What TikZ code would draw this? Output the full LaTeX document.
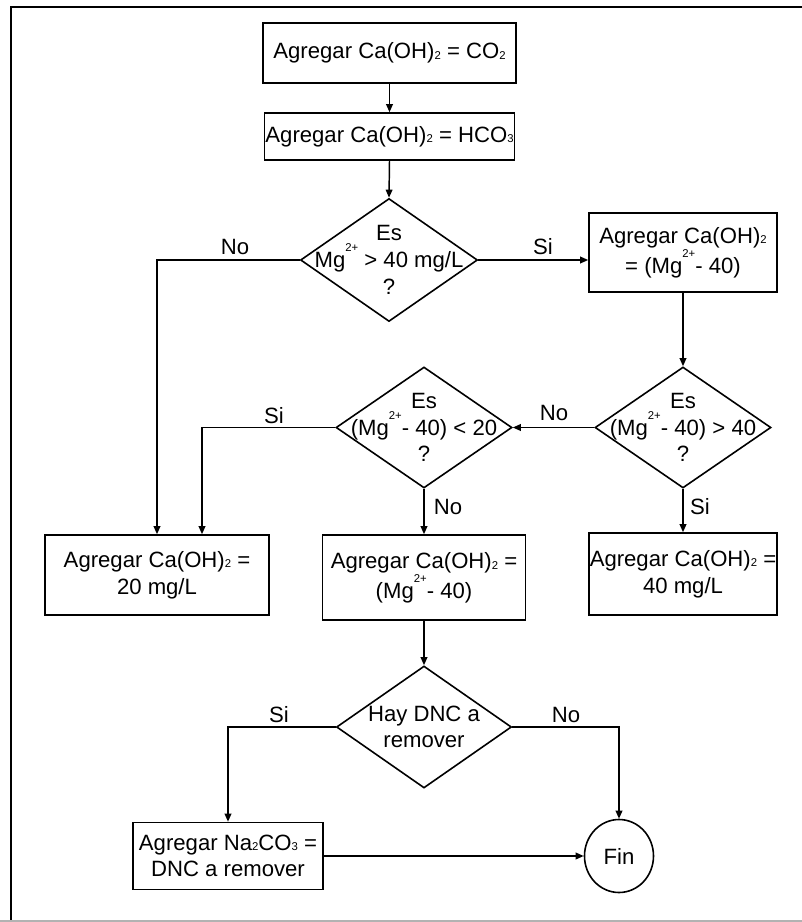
\documentclass[tikz,border=0pt]{standalone}
\usepackage{fontspec}
\setmainfont{Liberation Sans}
\usetikzlibrary{shapes.geometric,arrows.meta}
% small chemical indices, set the way the drawing shows them
\newcommand{\chsub}[1]{\raisebox{-0.05ex}{\fontsize{8.5}{8.5}\selectfont #1}}
\newcommand{\chsup}[1]{\raisebox{1.35ex}{\fontsize{8.5}{8.5}\selectfont #1}}

\begin{document}
\begin{tikzpicture}[x=0.75pt,y=-0.75pt,
  font=\fontsize{16.6}{20}\selectfont,
  every node/.style={inner sep=0pt},
  box/.style={draw, line width=1.2pt, align=center},
  decision/.style={draw, diamond, line width=1.2pt},
  txt/.style={align=center},
  arr/.style={line width=1.1pt, -{Triangle[length=6pt,width=5pt]}},
  lbl/.style={}
]
\useasboundingbox (0,0) rectangle (802,922);

% outer frame
\draw[line width=2.2pt] (11,922) -- (11,7) -- (802,7);
\draw[line width=1.5pt, black!30] (0,921) -- (802,921);

% process boxes
\node[box, minimum width=189.75pt, minimum height=45pt] (b1) at (389.5,53)
  {Agregar Ca(OH)\chsub{2} = CO\chsub{2}};
\node[box, minimum width=187.5pt, minimum height=35.25pt] (b2) at (389.5,136.5)
  {Agregar Ca(OH)\chsub{2} = HCO\chsub{3}};
\node[box, minimum width=141pt, minimum height=59.25pt] (b3) at (683,252.5)
  {Agregar Ca(OH)\chsub{2}\\= (Mg\chsup{2+}- 40)};
\node[box, minimum width=168pt, minimum height=60pt] (b4) at (157,575)
  {Agregar Ca(OH)\chsub{2} =\\20 mg/L};
\node[box, minimum width=152.25pt, minimum height=63.75pt] (b5) at (424,577.5)
  {Agregar Ca(OH)\chsub{2} =\\(Mg\chsup{2+}- 40)};
\node[box, minimum width=141pt, minimum height=61.5pt] (b6) at (683,574)
  {Agregar Ca(OH)\chsub{2} =\\40 mg/L};
\node[box, minimum width=142.5pt, minimum height=50.25pt] (b7) at (228,856)
  {Agregar Na\chsub{2}CO\chsub{3} =\\DNC a remover};
\node[draw, ellipse, line width=1.2pt, minimum width=51.75pt, minimum height=54.75pt] (fin) at (619,856) {Fin};

% decisions (shape and text kept apart so the text may touch the edges)
\node[decision, minimum width=132.75pt, minimum height=92.25pt] (d1) at (389,260) {};
\node[txt] (d1t) at (d1) {Es\\Mg\chsup{2+} > 40 mg/L\\?};
\node[decision, minimum width=132pt, minimum height=90.75pt] (d2) at (424,427.5) {};
\node[txt] (d2t) at (d2) {Es\\(Mg\chsup{2+}- 40) < 20\\?};
\node[decision, minimum width=132pt, minimum height=90.75pt] (d3) at (683,427.5) {};
\node[txt] (d3t) at (d3) {Es\\(Mg\chsup{2+}- 40) > 40\\?};
\node[decision, minimum width=131.25pt, minimum height=91.5pt] (d4) at (424,727) {};
\node[txt] (d4t) at (d4) {Hay DNC a\\remover};

% connectors
\draw[arr] (b1.south) -- (b2.north);
\draw[arr] (b2.south) -- (d1.north);
\draw[arr] (d1.east) -- (d1.east -| b3.west);
\draw[arr] (d1.west) -| (b4.north);
\draw[arr] (b3.south) -- (d3.north);
\draw[arr] (d3.west) -- (d2.east);
\draw[arr] (d3.south) -- (b6.north);
\draw[arr] (d2.west) -| ([xshift=33.75pt]b4.north);
\draw[arr] (d2.south) -- (b5.north);
\draw[arr] (b5.south) -- (d4.north);
\draw[arr] (d4.west) -| (b7.north);
\draw[arr] (d4.east) -| (fin.north);
\draw[arr] (b7.east) -- (fin.west);

% branch labels
\node[lbl] (l1) at (235,247) {No};
\node[lbl] (l2) at (543,247) {Si};
\node[lbl] (l3) at (274,416) {Si};
\node[lbl] (l4) at (554,413) {No};
\node[lbl] (l5) at (448,507) {No};
\node[lbl] (l6) at (700,507) {Si};
\node[lbl] (l7) at (279,715) {Si};
\node[lbl] (l8) at (566,715) {No};
\end{tikzpicture}
\end{document}
